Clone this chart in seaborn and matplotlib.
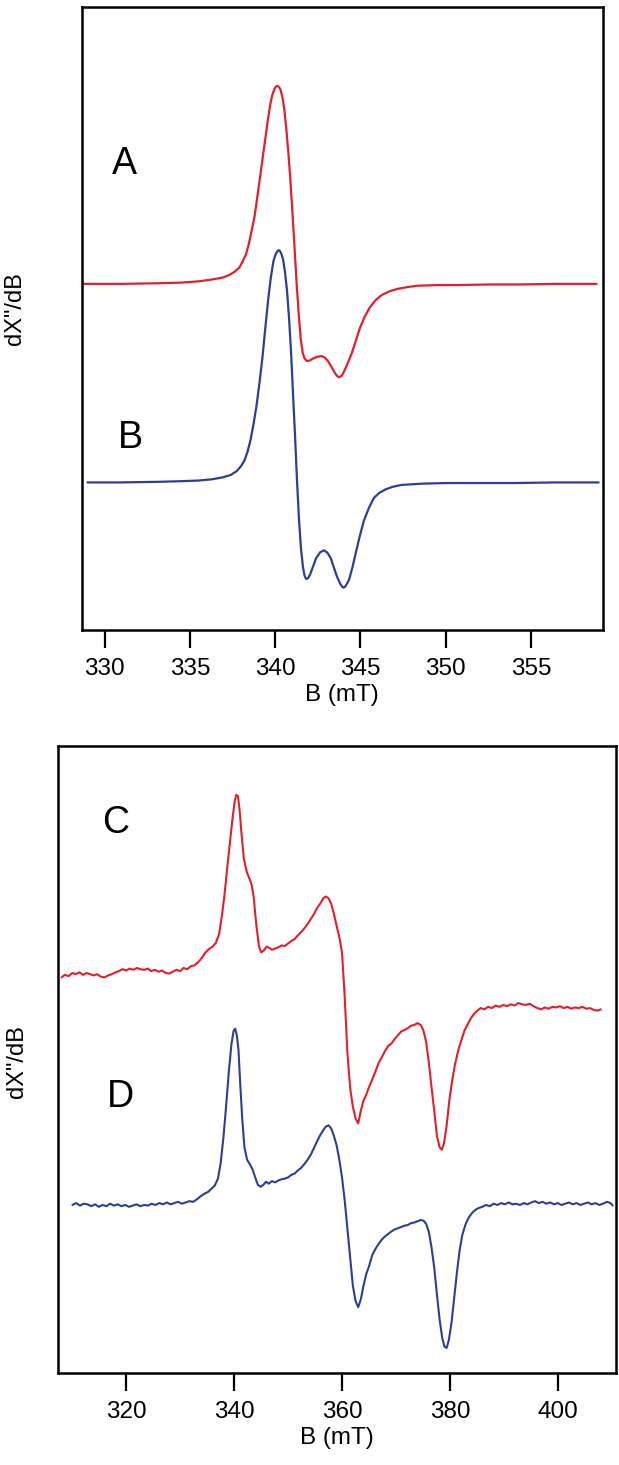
import matplotlib
matplotlib.use("Agg")
import matplotlib.pyplot as plt
import seaborn as sns

sns.set_style("ticks")
plt.rcParams["font.family"] = ["Liberation Sans", "DejaVu Sans"]
plt.rcParams["text.color"] = "black"
plt.rcParams["axes.labelcolor"] = "black"

RED = "#e3202a"
BLUE = "#2c3f95"

# ---- panel A / B (smooth spectra), field in mT, signal in arbitrary units
field_a = [328.8, 331.0, 333.2, 334.5, 335.5, 336.3, 336.9, 337.3, 337.6, 337.9,
           338.1, 338.3, 338.44, 338.6, 338.8, 338.97, 339.14, 339.3, 339.44, 339.58,
           339.72, 339.84, 339.96, 340.05, 340.14, 340.24, 340.33, 340.45, 340.56, 340.68,
           340.8, 340.92, 341.03, 341.15, 341.26, 341.38, 341.5, 341.62, 341.73, 341.84,
           341.94, 342.1, 342.29, 342.5, 342.71, 342.9, 343.1, 343.3, 343.46, 343.6,
           343.74, 343.9, 344.04, 344.25, 344.5, 344.75, 344.97, 345.25, 345.55, 345.9,
           346.25, 346.7, 347.19, 347.8, 348.35, 349.5, 350.7, 352.5, 354.2, 356.5,
           358.85]
signal_a = [55.6, 55.6, 55.7, 55.8, 56.0, 56.3, 56.6, 57.0, 57.5, 58.2,
            59.2, 60.4, 61.8, 63.8, 66.5, 69.8, 73.2, 76.4, 79.2, 82.0,
            84.5, 86.0, 86.9, 87.3, 87.4, 87.2, 86.7, 85.3, 83.2, 79.8,
            75.9, 71.3, 66.5, 61.0, 55.8, 51.0, 46.8, 44.5, 43.6, 43.25,
            43.2, 43.4, 43.7, 43.9, 44.0, 43.8, 43.2, 42.3, 41.5, 40.9,
            40.6, 40.8, 41.5, 42.8, 44.5, 46.6, 48.5, 50.3, 51.8, 53.0,
            53.8, 54.4, 54.8, 55.1, 55.3, 55.4, 55.4, 55.5, 55.5, 55.6,
            55.6]

field_b = [329.0, 331.0, 333.2, 334.5, 335.5, 336.3, 336.9, 337.4, 337.74, 338.0,
           338.2, 338.38, 338.56, 338.73, 338.9, 339.08, 339.26, 339.43, 339.6, 339.75,
           339.9, 340.01, 340.12, 340.2, 340.28, 340.37, 340.47, 340.58, 340.7, 340.82,
           340.94, 341.05, 341.17, 341.28, 341.4, 341.52, 341.64, 341.73, 341.82, 341.93,
           342.05, 342.2, 342.4, 342.65, 342.87, 343.07, 343.27, 343.45, 343.64, 343.82,
           343.92, 344.0, 344.09, 344.17, 344.34, 344.54, 344.74, 344.97, 345.2, 345.5,
           345.79, 346.1, 346.49, 346.9, 347.42, 348.0, 348.59, 350.0, 351.85, 354.0,
           356.5, 358.97]
signal_b = [23.7, 23.7, 23.8, 23.9, 24.0, 24.2, 24.5, 24.9, 25.5, 26.3,
            27.2, 28.6, 30.5, 33.0, 35.8, 39.6, 43.8, 48.6, 53.2, 56.6,
            59.2, 60.2, 60.8, 61.0, 60.9, 60.4, 59.5, 57.5, 54.5, 50.0,
            44.5, 38.0, 31.2, 24.3, 17.8, 13.0, 10.0, 8.7, 8.2, 8.3,
            8.9, 10.0, 11.5, 12.5, 12.8, 12.4, 11.5, 10.0, 8.5, 7.4,
            7.0, 6.8, 6.9, 7.2, 8.1, 10.1, 12.5, 15.1, 17.5, 19.6,
            21.2, 22.0, 22.6, 23.0, 23.3, 23.4, 23.5, 23.6, 23.6, 23.6,
            23.7, 23.7]

# ---- panel C / D (noisy spectra)
field_c = [
    308.0, 308.6, 309.3, 310.0, 310.6, 311.3, 312.0, 312.6, 313.3, 314.0,
    314.6, 315.3, 316.0, 316.6, 317.3, 318.0, 318.6, 319.3, 320.0, 320.6,
    321.3, 322.0, 322.6, 323.3, 324.0, 324.6, 325.3, 326.0, 326.6, 327.3,
    328.0, 328.6, 329.3, 330.0, 330.6, 331.3, 332.0, 332.6, 333.3, 334.0,
    334.6, 335.3, 336.0, 336.6, 337.2, 337.7, 338.2, 338.7, 339.2, 339.7,
    340.1, 340.4, 340.7, 341.0, 341.4, 341.8, 342.3, 342.8, 343.2, 343.6,
    344.1, 344.6, 345.0, 345.5, 346.0, 346.5, 347.0, 347.6, 348.2, 348.8,
    349.4, 350.0, 350.6, 351.2, 351.8, 352.4, 353.0, 353.6, 354.2, 354.8,
    355.4, 356.0, 356.5, 357.0, 357.5, 358.0, 358.5, 359.0, 359.5, 360.0,
    360.5, 361.0, 361.5, 362.0, 362.5, 363.0, 363.5, 364.0, 364.5, 365.0,
    365.6, 366.2, 366.8, 367.4, 368.0, 368.6, 369.2, 369.8, 370.4, 371.0,
    371.6, 372.2, 372.8, 373.4, 374.0, 374.6, 375.1, 375.6, 376.1, 376.6,
    377.1, 377.6, 378.1, 378.5, 378.9, 379.4, 379.9, 380.4, 380.9, 381.5,
    382.1, 382.7, 383.3, 383.9, 384.5, 385.1, 385.7, 386.4, 387.1, 387.8,
    388.5, 389.2, 389.9, 390.6, 391.3, 392.0, 392.7, 393.4, 394.1, 394.8,
    395.5, 396.2, 396.9, 397.6, 398.3, 399.0, 399.7, 400.4, 401.1, 401.8,
    402.5, 403.2, 403.9, 404.6, 405.3, 406.0, 406.7, 407.4, 408.0,
]
signal_c = [
    63.1, 63.5, 63.3, 63.8, 63.6, 63.9, 63.5, 63.8, 63.6, 63.4,
    63.6, 63.2, 63.1, 63.4, 63.6, 63.9, 64.1, 64.4, 64.2, 64.5,
    64.3, 64.6, 64.4, 64.3, 64.5, 64.1, 64.3, 64.0, 64.2, 63.8,
    63.7, 64.0, 64.3, 64.1, 64.6, 64.4, 64.9, 65.0, 65.5, 66.2,
    67.0, 67.6, 68.0, 68.6, 70.0, 72.8, 76.2, 80.5, 84.5, 88.5,
    91.2, 92.2, 92.0, 89.8, 85.6, 82.0, 80.0, 78.9, 78.0, 76.0,
    71.5, 68.0, 67.1, 67.4, 68.0, 67.8, 67.5, 67.7, 67.9, 68.2,
    68.1, 68.5, 68.9, 69.2, 69.8, 70.3, 70.9, 71.6, 72.4, 73.2,
    74.2, 74.9, 75.7, 76.0, 75.7, 74.8, 73.2, 71.3, 69.5, 67.0,
    60.0, 51.0, 45.5, 42.5, 40.6, 39.8, 41.9, 43.5, 44.4, 45.6,
    46.8, 48.1, 49.5, 50.4, 51.4, 52.2, 52.6, 53.3, 53.9, 54.5,
    54.7, 55.0, 55.4, 55.5, 55.8, 55.5, 54.6, 52.8, 49.5, 45.5,
    41.8, 37.8, 36.0, 35.6, 36.6, 39.5, 43.5, 46.5, 49.0, 51.3,
    53.0, 54.6, 55.6, 56.6, 57.3, 57.8, 58.2, 58.0, 58.4, 58.2,
    58.6, 58.4, 58.7, 58.5, 58.8, 58.6, 59.0, 58.8, 58.7, 58.9,
    58.5, 58.2, 58.0, 58.3, 58.1, 58.4, 58.3, 58.5, 58.2, 58.4,
    58.1, 58.3, 58.2, 58.4, 58.1, 58.2, 57.9, 57.8, 58.0,
]

field_d = [
    310.0, 310.7, 311.4, 312.1, 312.8, 313.5, 314.2, 314.9, 315.6, 316.3,
    317.0, 317.7, 318.4, 319.1, 319.8, 320.5, 321.2, 321.9, 322.6, 323.3,
    324.0, 324.7, 325.4, 326.1, 326.8, 327.5, 328.2, 328.9, 329.6, 330.3,
    331.0, 331.7, 332.4, 333.1, 333.8, 334.5, 335.2, 335.8, 336.4, 337.0,
    337.5, 338.0, 338.5, 339.0, 339.5, 339.9, 340.2, 340.5, 340.8, 341.1,
    341.5, 341.9, 342.4, 342.9, 343.4, 343.9, 344.4, 344.9, 345.4, 345.9,
    346.4, 347.0, 347.6, 348.2, 348.8, 349.4, 350.0, 350.6, 351.2, 351.8,
    352.4, 353.0, 353.6, 354.2, 354.8, 355.4, 356.0, 356.5, 357.0, 357.5,
    358.0, 358.5, 359.0, 359.5, 360.0, 360.5, 361.0, 361.5, 362.0, 362.5,
    363.0, 363.5, 364.0, 364.5, 365.0, 365.6, 366.2, 366.8, 367.4, 368.0,
    368.6, 369.2, 369.8, 370.4, 371.0, 371.6, 372.2, 372.8, 373.4, 374.0,
    374.6, 375.1, 375.6, 376.1, 376.6, 377.1, 377.6, 378.1, 378.6, 379.0,
    379.4, 379.8, 380.3, 380.8, 381.3, 381.8, 382.3, 382.9, 383.5, 384.1,
    384.7, 385.3, 386.0, 386.7, 387.4, 388.1, 388.8, 389.5, 390.2, 390.9,
    391.6, 392.3, 393.0, 393.7, 394.4, 395.1, 395.8, 396.5, 397.2, 397.9,
    398.6, 399.3, 400.0, 400.7, 401.4, 402.1, 402.8, 403.5, 404.2, 404.9,
    405.6, 406.3, 407.0, 407.7, 408.4, 409.1, 409.8, 410.2,
]
signal_d = [
    26.8, 27.1, 26.7, 27.0, 26.9, 26.6, 26.9, 26.5, 26.8, 26.6,
    27.0, 26.7, 26.9, 26.6, 26.8, 26.5, 26.7, 26.9, 26.6, 26.8,
    26.7, 27.0, 26.8, 27.1, 26.9, 27.2, 26.9, 27.1, 27.3, 27.0,
    27.2, 27.4, 27.3, 27.7, 28.2, 28.6, 28.9, 29.4, 29.9, 31.0,
    33.5, 37.5, 42.5, 48.0, 52.5, 54.6, 54.9, 53.8, 51.5, 46.5,
    40.5, 36.0, 34.0, 33.3, 32.5, 31.2, 30.0, 29.7, 30.0, 30.5,
    30.2, 30.6, 30.4, 30.7, 30.9, 31.0, 31.2, 31.6, 31.8, 32.3,
    32.7, 33.3, 34.0, 34.8, 35.9, 37.0, 38.0, 38.7, 39.3, 39.5,
    39.0, 37.8, 36.3, 34.0, 31.2, 27.5, 23.0, 18.5, 14.0, 11.5,
    10.5, 11.8, 14.0, 15.8, 17.0, 18.8, 19.8, 20.6, 21.3, 21.8,
    22.2, 22.6, 22.9, 23.1, 23.3, 23.5, 23.6, 23.9, 24.0, 24.2,
    24.4, 24.3, 23.8, 22.5, 20.0, 16.8, 12.5, 8.5, 5.5, 4.2,
    4.0, 5.2, 8.0, 12.0, 16.0, 19.5, 22.0, 23.7, 24.8, 25.5,
    26.0, 26.3, 26.5, 26.8, 26.6, 27.0, 26.8, 27.1, 26.9, 27.2,
    26.9, 27.0, 26.8, 27.1, 26.9, 27.2, 27.4, 27.1, 27.3, 27.0,
    27.2, 26.9, 27.1, 26.8, 27.0, 27.2, 26.9, 27.1, 26.8, 27.0,
    27.2, 26.9, 27.1, 26.8, 27.0, 27.3, 27.1, 26.7,
]

ticks_top = [330, 335, 340, 345, 350, 355]
ticks_bottom = [320, 340, 360, 380, 400]

fig = plt.figure(figsize=(6.19, 14.65), dpi=100)
ax1 = fig.add_axes([0.1317, 0.5700, 0.8425, 0.4249])
ax2 = fig.add_axes([0.0943, 0.0628, 0.9008, 0.4280])

sns.lineplot(x=field_a, y=signal_a, color=RED, lw=1.6, ax=ax1)
sns.lineplot(x=field_b, y=signal_b, color=BLUE, lw=1.6, ax=ax1)
sns.lineplot(x=field_c, y=signal_c, color=RED, lw=1.5, ax=ax2)
sns.lineplot(x=field_d, y=signal_d, color=BLUE, lw=1.5, ax=ax2)

ax1.set_xlim(328.65, 359.23)
ax2.set_xlim(307.4, 410.8)
ax1.set_xticks(ticks_top)
ax2.set_xticks(ticks_bottom)

for ax in (ax1, ax2):
    ax.set_ylim(0, 100)
    ax.set_yticks([])
    for sp in ax.spines.values():
        sp.set_visible(True)
        sp.set_linewidth(1.8)
        sp.set_color("black")
    ax.tick_params(axis="x", direction="out", length=13, width=1.6,
                   labelsize=17.5, pad=7, colors="black")
    ax.set_xlabel("B (mT)", fontsize=17.5, labelpad=3, color="black")
    ax.set_ylabel('dX"/dB', fontsize=17, color="black")

ax1.yaxis.set_label_coords(-0.106, 0.516)
ax2.yaxis.set_label_coords(-0.0545, 0.496)

ax1.text(0.083, 0.749, "A", transform=ax1.transAxes, fontsize=27, ha="center", va="center")
ax1.text(0.093, 0.308, "B", transform=ax1.transAxes, fontsize=27, ha="center", va="center")
ax2.text(0.103, 0.877, "C", transform=ax2.transAxes, fontsize=27, ha="center", va="center")
ax2.text(0.111, 0.440, "D", transform=ax2.transAxes, fontsize=27, ha="center", va="center")

plt.savefig("out.png", dpi=100)
